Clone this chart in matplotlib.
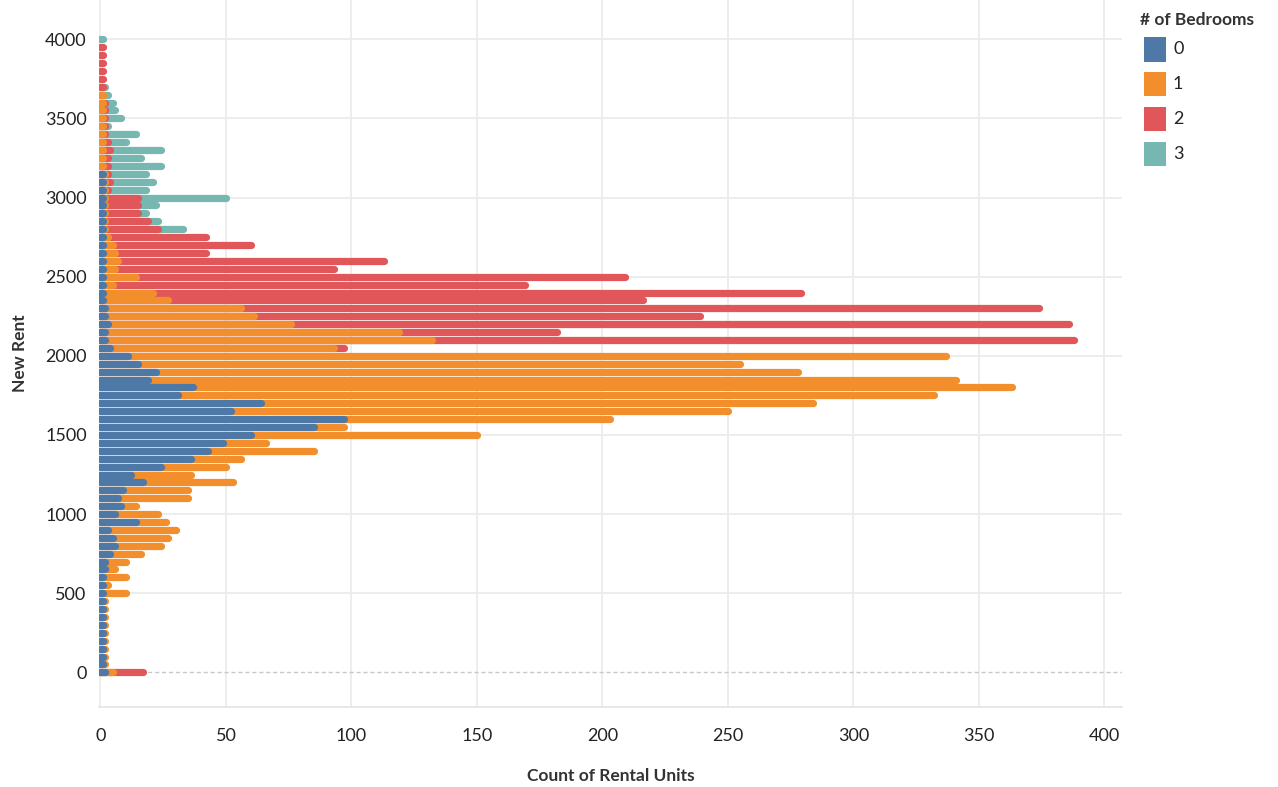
import numpy as np
import matplotlib
matplotlib.use("Agg")
import matplotlib.pyplot as plt
from matplotlib.patches import Rectangle

# Rent levels (y axis) and rental-unit counts per bedroom group
rents = list(range(0, 4050, 50))

bedrooms = ["0", "1", "2", "3"]
colors = ["#4e79a7", "#f28e2b", "#e15759", "#76b7b2"]

# counts per rent level, from rent 0 up to rent 4000
beds_0 = [2, 1, 1, 1, 1, 1, 1, 1, 1, 1,
          1, 1, 1, 2, 2, 4, 6, 5, 3, 14,
          6, 8, 7, 9, 17, 12, 24, 36, 43, 49,
          60, 85, 97, 52, 64, 31, 37, 19, 22, 15,
          11, 4, 2, 2, 3, 2, 2, 1, 1, 1,
          1, 1, 1, 1, 1, 1, 1, 1, 1, 1,
          1, 1, 1, 1, 0, 0, 0, 0, 0, 0,
          0, 0, 0, 0, 0, 0, 0, 0, 0, 0,
          0]
beds_1 = [3, 1, 1, 1, 1, 1, 1, 1, 1, 1,
          9, 2, 9, 4, 8, 12, 18, 22, 27, 12,
          17, 6, 28, 26, 36, 24, 26, 20, 42, 17,
          90, 12, 106, 198, 220, 301, 326, 322, 256, 240,
          326, 89, 130, 117, 73, 59, 54, 26, 20, 4,
          13, 5, 6, 5, 4, 2, 1, 1, 1, 1,
          1, 1, 1, 1, 1, 1, 1, 1, 1, 1,
          1, 1, 1, 1, 0, 0, 0, 0, 0, 0,
          0]
beds_2 = [12, 0, 0, 0, 0, 0, 0, 0, 0, 0,
          0, 0, 0, 0, 0, 0, 0, 0, 0, 0,
          0, 0, 0, 0, 0, 0, 0, 0, 0, 0,
          0, 0, 0, 0, 0, 0, 0, 0, 0, 0,
          0, 4, 256, 63, 310, 178, 318, 189, 258, 164,
          195, 87, 106, 36, 55, 39, 21, 17, 13, 13,
          13, 1, 2, 1, 2, 2, 3, 2, 1, 1,
          1, 1, 1, 0, 1, 1, 1, 1, 1, 1,
          0]
beds_3 = [0, 0, 0, 0, 0, 0, 0, 0, 0, 0,
          0, 0, 0, 0, 0, 0, 0, 0, 0, 0,
          0, 0, 0, 0, 0, 0, 0, 0, 0, 0,
          0, 0, 0, 0, 0, 0, 0, 0, 0, 0,
          0, 0, 0, 0, 0, 0, 0, 0, 0, 0,
          0, 0, 0, 0, 0, 0, 10, 4, 3, 7,
          35, 15, 17, 15, 21, 13, 20, 7, 12, 1,
          6, 4, 3, 2, 1, 0, 0, 0, 0, 0,
          1]

x_ticks = [0, 50, 100, 150, 200, 250, 300, 350, 400]
y_ticks = [0, 500, 1000, 1500, 2000, 2500, 3000, 3500, 4000]

plt.rcParams["font.family"] = ["Lato", "DejaVu Sans"]

fig = plt.figure(figsize=(12.78, 7.87), dpi=100)
ax = fig.add_axes([0.0776, 0.102, 0.8003, 0.898])

# stacked counts, drawn top group first so lower groups sit on top
series = np.array([beds_0, beds_1, beds_2, beds_3], dtype=float)
cum = np.cumsum(series, axis=0)
for k in range(3, -1, -1):
    for rent, cnt, top in zip(rents, series[k], cum[k]):
        if cnt <= 0:
            continue
        ax.plot([0, top], [rent, rent], color=colors[k], linewidth=5.2,
                solid_capstyle="round", zorder=3 + (3 - k))

# zero line
ax.axhline(0, color="#c8c8c8", linewidth=1, linestyle=(0, (3, 2)), zorder=1)

ax.set_xlim(-0.5, 407)
ax.set_ylim(-217, 4248)
ax.set_xticks(x_ticks)
ax.set_yticks(y_ticks)
for xv in x_ticks:
    ax.axvline(xv, color="#ececec", linewidth=1.3, zorder=0)
for yv in y_ticks[1:]:
    ax.axhline(yv, color="#ececec", linewidth=1.3, zorder=0)

for side in ["top", "right", "left"]:
    ax.spines[side].set_visible(False)
ax.spines["bottom"].set_color("#e6e6e6")
ax.spines["bottom"].set_linewidth(1.3)

ax.tick_params(axis="both", length=0, labelsize=13, colors="#222222")
ax.tick_params(axis="x", pad=15.5)
ax.tick_params(axis="y", pad=9)

ax.set_xlabel("Count of Rental Units", fontsize=12.5, fontweight="bold",
              color="#333333", labelpad=17)
ax.set_ylabel("New Rent", fontsize=12.5, fontweight="bold",
              color="#333333", labelpad=12)

# legend
fig.text(1140 / 1278, 1 - 20 / 787, "# of Bedrooms", fontsize=12.5,
         fontweight="bold", color="#333333", va="center", ha="left")
for i, (lab, col) in enumerate(zip(bedrooms, colors)):
    yc = 49.5 + i * 34.8
    fig.add_artist(Rectangle((1143.5 / 1278, 1 - (yc + 12) / 787),
                             22 / 1278, 24 / 787, facecolor=col,
                             edgecolor="none", transform=fig.transFigure))
    fig.text(1173 / 1278, 1 - yc / 787, lab, fontsize=13, color="#222222",
             va="center", ha="left")

fig.savefig("out.png", dpi=100)
